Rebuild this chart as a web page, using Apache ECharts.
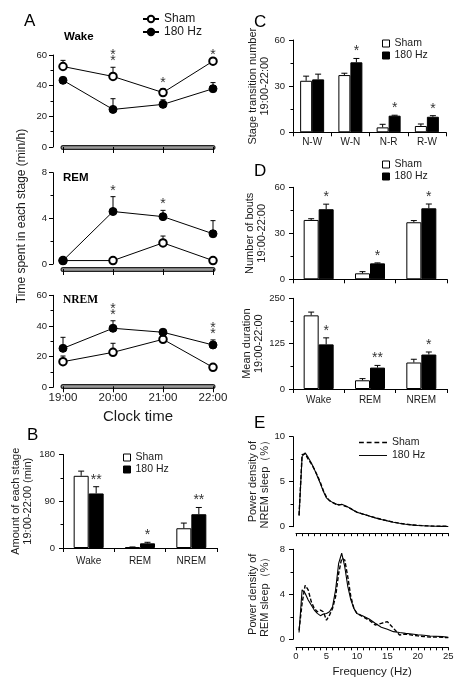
<!DOCTYPE html>
<html><head><meta charset="utf-8">
<script src="https://cdn.jsdelivr.net/npm/echarts@6/dist/echarts.min.js"></script>
<style>html,body{margin:0;padding:0;background:#fff}#c{width:467px;height:691px}</style>
</head><body><div id="c"></div>
<script>
// ---------- data ----------
const hours = ['19:00', '20:00', '21:00', '22:00'];
const wakeSham = [52.5, 46, 35.5, 56];
const wakeShamErr = [4, 6, 2.5, 0];
const wake180 = [43.5, 24.5, 27.8, 38];
const wake180Err = [0, 7, 3, 4];
const wakeSig = ['', '**', '*', '*'];

const remSham = [0.3, 0.3, 1.85, 0.3];
const remShamErr = [0, 0, 0.6, 0];
const rem180 = [0.3, 4.6, 4.15, 2.65];
const rem180Err = [0, 1.3, 0.55, 1.15];
const remSig = ['', '*', '*', ''];

const nremSham = [16.7, 22.8, 31.3, 13];
const nremShamErr = [3.7, 5.9, 0, 0];
const nrem180 = [25.4, 38.5, 35.9, 27.6];
const nrem180Err = [7.2, 4.9, 0, 3.3];
const nremSig = ['', '**', '', '**'];

const stages = ['Wake', 'REM', 'NREM'];
const amountSham = [139, 1.5, 38];
const amountShamErr = [9, 0.5, 10];
const amount180 = [105, 9, 65];
const amount180Err = [13, 2, 13];
const amountSig = ['**', '*', '**'];

const transitions = ['N-W', 'W-N', 'N-R', 'R-W'];
const transSham = [33.5, 37.2, 3.2, 4.1];
const transShamErr = [3, 1.2, 2, 1.3];
const trans180 = [34.4, 45.5, 10.8, 10.1];
const trans180Err = [3.4, 2.5, 0.3, 0.7];
const transSig = ['', '*', '*', '*'];

const boutsSham = [38.7, 3.9, 37.2];
const boutsShamErr = [0.8, 1.1, 1.1];
const bouts180 = [45.7, 10.4, 46.3];
const bouts180Err = [3.3, 0.3, 2.8];
const boutsSig = ['*', '*', '*'];

const durSham = [203, 24, 73];
const durShamErr = [9, 4.6, 9];
const dur180 = [123, 59, 95];
const dur180Err = [18, 6, 7];
const durSig = ['*', '**', '*'];

const freq = [0.5,1,1.5,2,2.5,3,3.5,4,4.5,5,5.5,6,6.5,7,7.5,8,8.5,9,9.5,10,11,12,13,14,15,16,17,18,19,20,21,22,23,24,25];
const nremPsdSham = [1.3,8.0,8.1,7.5,7.0,6.4,5.7,4.9,4.0,3.3,2.9,2.7,2.5,2.45,2.45,2.3,2.2,2.0,1.8,1.62,1.4,1.2,1.0,0.82,0.66,0.5,0.38,0.28,0.2,0.15,0.11,0.08,0.06,0.05,0.04];
const nremPsd180 = [1.2,7.8,8.2,7.7,7.1,6.4,5.6,4.8,3.9,3.2,2.9,2.7,2.55,2.4,2.5,2.35,2.2,2.0,1.8,1.6,1.4,1.18,0.98,0.8,0.65,0.5,0.38,0.28,0.2,0.14,0.1,0.07,0.05,0.04,0.03];
const remPsdSham = [0.8,3.2,4.8,4.4,3.35,2.75,2.45,2.6,2.45,1.7,2.15,2.75,3.8,5.85,7.2,7.05,5.55,3.8,2.75,2.3,2.0,1.7,1.27,1.42,1.57,0.98,0.38,0.47,0.38,0.3,0.24,0.2,0.2,0.18,0.15];
const remPsd180 = [0.6,4.4,4.1,3.5,3.05,2.6,2.3,2.1,2.25,2.3,2.45,2.9,4.4,6.75,7.65,6.45,4.7,3.5,2.75,2.3,2.07,1.8,1.42,1.07,0.9,0.68,0.6,0.53,0.47,0.41,0.36,0.3,0.27,0.24,0.18];

// ---------- helpers ----------
const F = 'Liberation Sans, Arial, sans-serif';
const TXT = '#1a1a1a';

function yA(g, min, max, interval, o) {
  return {
    type: 'value', gridIndex: g, min, max, interval, offset: o.offset || 0, position: 'left',
    axisLine: { show: true, onZero: false, lineStyle: { color: '#000', width: 1 } },
    axisTick: { show: true, length: 4, lineStyle: { color: '#000', width: 1 } },
    minorTick: { show: true, splitNumber: 2, length: 2.5, lineStyle: { color: '#000', width: 1 } },
    splitLine: { show: false }, minorSplitLine: { show: false },
    axisLabel: { fontSize: 9.5, color: TXT, fontFamily: F, margin: o.margin },
    name: o.name || '', nameLocation: 'middle', nameRotate: 90, nameGap: o.nameGap || 0,
    nameTextStyle: { fontSize: 11, fontFamily: F, color: TXT, lineHeight: 12 }
  };
}
function xCat(g, data, o) {
  return {
    type: 'category', gridIndex: g, data, boundaryGap: o.bg, offset: o.offset || 0, position: 'bottom',
    axisLine: { show: true, onZero: false, lineStyle: { color: o.lineColor || '#000', width: o.lineWidth || 1 } },
    axisTick: { show: o.tick !== false, length: o.tickLen || 4, alignWithLabel: false, lineStyle: { color: '#000', width: 1 } },
    axisLabel: { show: !!o.labels, fontSize: o.fs || 10, color: TXT, fontFamily: F, margin: o.margin || 6, interval: 0 },
    splitLine: { show: false },
    name: o.name || '', nameLocation: 'middle', nameGap: o.nameGap || 0,
    nameTextStyle: { fontSize: o.nameFs || 12, fontFamily: F, color: TXT }
  };
}
function xVal(g, o) {
  return {
    type: 'value', gridIndex: g, min: 0, max: 25, interval: 5, offset: o.offset || 0, position: 'bottom',
    axisLine: { show: true, onZero: false, lineStyle: { color: '#000', width: 1 } },
    axisTick: { show: true, length: 3, lineStyle: { color: '#000', width: 1 } },
    minorTick: { show: true, splitNumber: 5, length: 3, lineStyle: { color: '#000', width: 1 } },
    splitLine: { show: false }, minorSplitLine: { show: false },
    axisLabel: { show: !!o.labels, fontSize: 9.5, color: TXT, fontFamily: F, margin: o.margin || 4 },
    name: o.name || '', nameLocation: 'middle', nameGap: o.nameGap || 0,
    nameTextStyle: { fontSize: 11.5, fontFamily: F, color: TXT }
  };
}
function errSeries(ai, vals, errs, off, cap) {
  return {
    type: 'custom', xAxisIndex: ai, yAxisIndex: ai, z: 2, silent: true, clip: false,
    data: vals.map((v, i) => [i, v, errs[i]]),
    renderItem(params, api) {
      const e = api.value(2);
      if (!(e > 0)) return null;
      const p0 = api.coord([api.value(0), api.value(1)]);
      const p1 = api.coord([api.value(0), api.value(1) + e]);
      const x = p0[0] + off;
      return { type: 'group', children: [
        { type: 'line', shape: { x1: x, y1: p0[1], x2: x, y2: p1[1] }, style: { stroke: '#000', lineWidth: 1 } },
        { type: 'line', shape: { x1: x - cap, y1: p1[1], x2: x + cap, y2: p1[1] }, style: { stroke: '#000', lineWidth: 1 } }
      ] };
    }
  };
}
function sigSeries(ai, sig, tops, off, stacked, gap) {
  return {
    type: 'custom', xAxisIndex: ai, yAxisIndex: ai, z: 6, silent: true, clip: false,
    data: tops.map((t, i) => [i, t]),
    renderItem(params, api) {
      const s = sig[params.dataIndex];
      if (!s) return null;
      const p = api.coord([api.value(0), api.value(1)]);
      return { type: 'text', x: p[0] + off, y: p[1] - gap, style: {
        text: stacked ? s.split('').join('\n') : s, align: 'center', verticalAlign: 'bottom',
        fontSize: 14, fontFamily: F, fill: '#333', lineHeight: stacked ? 6 : 14 } };
    }
  };
}
function lineTops(a, ae, b, be) { return a.map((v, i) => Math.max(v + ae[i], b[i] + be[i])); }
function barTops(b, be) { return b.map((v, i) => v + be[i]); }
function lineSeries(ai, name, data, filled) {
  return {
    type: 'line', name, xAxisIndex: ai, yAxisIndex: ai, data, z: 4,
    symbol: filled ? 'circle' : 'emptyCircle', symbolSize: filled ? 8 : 7.5,
    lineStyle: { color: '#000', width: 1 },
    itemStyle: { color: '#000', borderColor: '#000', borderWidth: 1 }
  };
}
function barPair(ai, sham, s180, w) {
  return [
    { type: 'bar', name: 'Sham', xAxisIndex: ai, yAxisIndex: ai, data: sham, barWidth: w, barGap: '0%',
      itemStyle: { color: '#fff', borderColor: '#000', borderWidth: 1 }, z: 1 },
    { type: 'bar', name: '180 Hz', xAxisIndex: ai, yAxisIndex: ai, data: s180, barWidth: w, barGap: '0%',
      itemStyle: { color: '#000', borderColor: '#000', borderWidth: 1 }, z: 1 }
  ];
}
function psdSeries(ai, name, vals, dashed) {
  return {
    type: 'line', name, xAxisIndex: ai, yAxisIndex: ai, symbol: 'none', z: 3,
    data: freq.map((f, i) => [f, vals[i]]),
    lineStyle: { color: '#000', width: dashed ? 1.4 : 1.1, type: dashed ? [4, 2] : 'solid' }
  };
}

const grids = [
  { left: 63, top: 55, width: 150, height: 92 },
  { left: 63, top: 172.7, width: 150, height: 91.3 },
  { left: 63, top: 295.3, width: 150, height: 92 },
  { left: 63, top: 454.5, width: 154, height: 93.5 },
  { left: 293, top: 40, width: 153, height: 92.3 },
  { left: 293, top: 187.3, width: 154, height: 92 },
  { left: 293, top: 298.3, width: 154, height: 90.7 },
  { left: 296, top: 436.7, width: 152.3, height: 90 },
  { left: 296, top: 549.3, width: 152.3, height: 90 }
].map(g => Object.assign(g, { containLabel: false, outerBoundsMode: 'none' }));

const xAxis = [
  xCat(0, hours, { bg: false, lineColor: '#222', lineWidth: 5, tickLen: 6 }),
  xCat(1, hours, { bg: false, lineColor: '#222', lineWidth: 5, tickLen: 6, offset: 5 }),
  xCat(2, hours, { bg: false, lineColor: '#222', lineWidth: 5, tickLen: 6, offset: -1, labels: true, fs: 11.5, margin: 6,
                   name: 'Clock time', nameGap: 23, nameFs: 15 }),
  xCat(3, stages, { bg: true, labels: true, fs: 10, margin: 8, tickLen: 4 }),
  xCat(4, transitions, { bg: true, labels: true, fs: 10, margin: 5, tickLen: 4 }),
  xCat(5, stages, { bg: true, tickLen: 4 }),
  xCat(6, stages, { bg: true, labels: true, fs: 10, margin: 6, tickLen: 4 }),
  xVal(7, { offset: 6.5 }),
  xVal(8, { offset: 8, labels: true, margin: 4, name: 'Frequency (Hz)', nameGap: 19 }),
  xCat(0, hours, { bg: false, lineColor: '#9a9a9a', lineWidth: 2.6, tick: false }),
  xCat(1, hours, { bg: false, lineColor: '#9a9a9a', lineWidth: 2.6, tick: false, offset: 5 }),
  xCat(2, hours, { bg: false, lineColor: '#9a9a9a', lineWidth: 2.6, tick: false, offset: -1 })
];
const yAxis = [
  yA(0, 0, 60, 20, { offset: 10, margin: 6 }),
  yA(1, 0, 8, 4, { offset: 10, margin: 6 }),
  yA(2, 0, 60, 20, { offset: 10, margin: 6 }),
  yA(3, 0, 180, 90, { margin: 8, name: 'Amount of each stage\n19:00-22:00 (min)', nameGap: 29 }),
  yA(4, 0, 60, 30, { margin: 8, name: 'Stage transition number\n19:00-22:00', nameGap: 21 }),
  yA(5, 0, 60, 30, { margin: 8, name: 'Number of bouts\n19:00-22:00', nameGap: 25 }),
  yA(6, 0, 250, 125, { margin: 8, name: 'Mean duration\n19:00-22:00', nameGap: 25 }),
  yA(7, 0, 10, 5, { offset: 3, margin: 8, name: 'Power density of\nNREM sleep（%）', nameGap: 22 }),
  yA(8, 0, 8, 4, { offset: 3, margin: 8, name: 'Power density of\nREM sleep（%）', nameGap: 22 })
];

const series = [
  lineSeries(0, 'Sham', wakeSham, false),
  lineSeries(0, '180 Hz', wake180, true),
  errSeries(0, wakeSham, wakeShamErr, 0, 2.5),
  errSeries(0, wake180, wake180Err, 0, 2.5),
  sigSeries(0, wakeSig, lineTops(wakeSham, wakeShamErr, wake180, wake180Err), 0, true, 3),
  lineSeries(1, 'Sham', remSham, false),
  lineSeries(1, '180 Hz', rem180, true),
  errSeries(1, remSham, remShamErr, 0, 2.5),
  errSeries(1, rem180, rem180Err, 0, 2.5),
  sigSeries(1, remSig, lineTops(remSham, remShamErr, rem180, rem180Err), 0, true, 3),
  lineSeries(2, 'Sham', nremSham, false),
  lineSeries(2, '180 Hz', nrem180, true),
  errSeries(2, nremSham, nremShamErr, 0, 2.5),
  errSeries(2, nrem180, nrem180Err, 0, 2.5),
  sigSeries(2, nremSig, lineTops(nremSham, nremShamErr, nrem180, nrem180Err), 0, true, 3),
  ...barPair(3, amountSham, amount180, 15),
  errSeries(3, amountSham, amountShamErr, -7.5, 3),
  errSeries(3, amount180, amount180Err, 7.5, 3),
  sigSeries(3, amountSig, barTops(amount180, amount180Err), 7.5, false, 0),
  ...barPair(4, transSham, trans180, 12),
  errSeries(4, transSham, transShamErr, -6, 3),
  errSeries(4, trans180, trans180Err, 6, 3),
  sigSeries(4, transSig, barTops(trans180, trans180Err), 6, false, 0),
  ...barPair(5, boutsSham, bouts180, 15),
  errSeries(5, boutsSham, boutsShamErr, -7.5, 3),
  errSeries(5, bouts180, bouts180Err, 7.5, 3),
  sigSeries(5, boutsSig, barTops(bouts180, bouts180Err), 7.5, false, 0),
  ...barPair(6, durSham, dur180, 15),
  errSeries(6, durSham, durShamErr, -7.5, 3),
  errSeries(6, dur180, dur180Err, 7.5, 3),
  sigSeries(6, durSig, barTops(dur180, dur180Err), 7.5, false, 0),
  psdSeries(7, 'Sham', nremPsdSham, true),
  psdSeries(7, '180 Hz', nremPsd180, false),
  psdSeries(8, 'Sham', remPsdSham, true),
  psdSeries(8, '180 Hz', remPsd180, false)
];

const boxLegend = (left, top) => ({
  left, top, orient: 'vertical', itemWidth: 7, itemHeight: 7, itemGap: 1, selectedMode: false, padding: 0,
  textStyle: { fontSize: 10.5, fontFamily: F, color: TXT },
  data: [
    { name: 'Sham', icon: 'rect', itemStyle: { color: '#fff', borderColor: '#000', borderWidth: 1 } },
    { name: '180 Hz', icon: 'rect', itemStyle: { color: '#000', borderColor: '#000', borderWidth: 1 } }
  ]
});
const legend = [
  { left: 142, top: 13, orient: 'vertical', itemWidth: 16, itemHeight: 8, itemGap: 1, selectedMode: false, padding: 0,
    textStyle: { fontSize: 12, fontFamily: F, color: TXT }, data: ['Sham', '180 Hz'] },
  boxLegend(123, 452),
  boxLegend(382, 38),
  boxLegend(382, 159),
  { left: 359, top: 437, orient: 'vertical', itemWidth: 28, itemHeight: 2, itemGap: 2, selectedMode: false, padding: 0,
    textStyle: { fontSize: 10.5, fontFamily: F, color: TXT },
    data: [
      { name: 'Sham', icon: 'path://M0 0H5V1.4H0Z M8 0H13V1.4H8Z M16 0H21V1.4H16Z M24 0H29V1.4H24Z', itemStyle: { color: '#000', borderWidth: 0 } },
      { name: '180 Hz', icon: 'path://M0 0H29V1H0Z', itemStyle: { color: '#000', borderWidth: 0 } }
    ] }
];

const T = (text, x, y, size, extra) => ({
  type: 'text', x, y, silent: true,
  style: Object.assign({ text, fontSize: size, fontFamily: F, fill: '#000', align: 'left', verticalAlign: 'middle' }, extra || {})
});
const graphic = [
  T('A', 24, 21, 17),
  T('B', 27, 435, 17),
  T('C', 254, 22, 17),
  T('D', 254, 171, 17),
  T('E', 254, 423, 17),
  T('Wake', 64, 37, 11.5, { fontWeight: 'bold' }),
  T('REM', 63, 178, 11.5, { fontWeight: 'bold' }),
  T('NREM', 63, 300, 11.5, { fontWeight: 'bold', fontFamily: 'Liberation Serif, serif' }),
  Object.assign(T('Time spent in each stage (min/h)', 22, 216, 12, { align: 'center', fill: TXT }), { rotation: Math.PI / 2 })
];

const chart = echarts.init(document.getElementById('c'), null, { renderer: 'canvas' });
chart.setOption({
  animation: false,
  backgroundColor: '#fff',
  textStyle: { fontFamily: F },
  grid: grids, xAxis, yAxis, series, legend, graphic
});
</script></body></html>
